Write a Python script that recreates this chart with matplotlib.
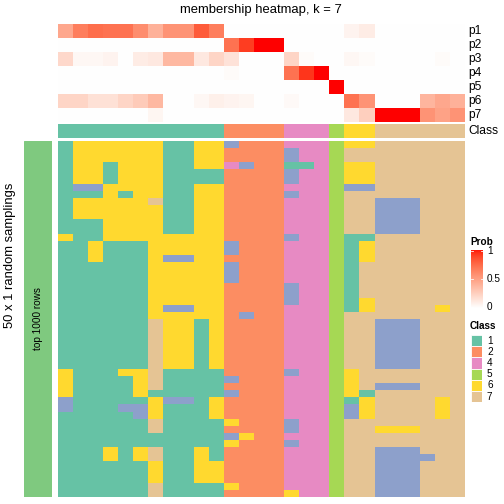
import numpy as np
import matplotlib
matplotlib.use("Agg")
import matplotlib.pyplot as plt
from matplotlib.colors import ListedColormap
from matplotlib.patches import Rectangle

plt.rcParams['font.family'] = ['Liberation Sans', 'DejaVu Sans']

W, H = 504, 504

# ---------------- data ----------------
prob_rows = ["p1", "p2", "p3", "p4", "p5", "p6", "p7"]
p1 = [0.45, 0.65, 0.72, 0.7, 0.7, 0.58, 0.4, 0.55, 0.55, 0.8, 0.65, 0, 0, 0, 0, 0, 0, 0, 0, 0.06, 0.1, 0, 0, 0, 0, 0, 0]
p2 = [0, 0, 0, 0, 0, 0, 0, 0, 0, 0, 0, 0.7, 0.9, 1.0, 1.0, 0, 0, 0, 0, 0, 0, 0, 0, 0, 0, 0, 0]
p3 = [0.2, 0.04, 0.04, 0.06, 0, 0.1, 0.12, 0.37, 0.37, 0.12, 0.22, 0.15, 0, 0, 0, 0.22, 0.02, 0, 0, 0.04, 0.02, 0, 0, 0, 0, 0.02, 0]
p4 = [0, 0, 0, 0, 0, 0, 0, 0, 0, 0, 0, 0.02, 0, 0, 0, 0.7, 0.92, 1.0, 0, 0, 0, 0, 0, 0, 0, 0, 0]
p5 = [0, 0, 0, 0, 0, 0, 0, 0, 0, 0, 0, 0, 0, 0, 0, 0, 0, 0, 1.0, 0, 0, 0, 0, 0, 0, 0, 0]
p6 = [0.22, 0.22, 0.16, 0.16, 0.22, 0.27, 0.37, 0, 0, 0.04, 0.08, 0.06, 0.05, 0, 0, 0.03, 0, 0, 0, 0.7, 0.55, 0, 0, 0, 0.38, 0.45, 0.4]
p7 = [0, 0, 0, 0, 0, 0, 0.05, 0, 0, 0, 0, 0, 0, 0, 0, 0, 0, 0, 0, 0.12, 0.25, 1.0, 1.0, 1.0, 0.55, 0.48, 0.55]

top_class = [1, 1, 1, 1, 1, 1, 1, 1, 1, 1, 1, 2, 2, 2, 2, 4, 4, 4, 5, 6, 6, 7, 7, 7, 7, 7, 7]

# class of each sample (column) in each of the 50 random samplings (rows), column by column
sampling_cols = [
    "1" * 13 + "6" + "1" * 18 + "6" * 4 + "33" + "1" * 12,
    "6" * 6 + "3" + "1" + "666" + "1" * 39,
    "6" * 6 + "3" + "1" + "666" + "111" + "666" + "1" * 33,
    "666" + "111" + "6" * 8 + "1" * 29 + "66" + "1" * 5,
    "6" * 7 + "1" + "6" * 6 + "1" * 18 + "6" + "1" * 4 + "3" + "1" * 12,
    "6" * 14 + "1" * 18 + "6" * 4 + "1" + "33" + "1" * 4 + "66" + "1" * 5,
    "6" * 8 + "7" + "6" * 16 + "7" * 10 + "1" + "666" + "77" + "11" + "77" + "666" + "77",
    "1" * 13 + "666" + "3" + "6" * 6 + "3" + "6" * 8 + "1" * 4 + "3" + "1" * 13,
    "1" * 13 + "666" + "3" + "6" * 6 + "3" + "6" * 8 + "1" * 4 + "3" + "1" * 13,
    "6" * 4 + "11" + "6" * 19 + "1" * 18 + "6" * 5 + "11",
    "6" * 4 + "11" + "6" * 26 + "1" * 4 + "666" + "1" * 6 + "666" + "11",
    "3" + "22" + "4" + "2" * 10 + "33" + "2" + "333" + "2" * 13 + "3" + "2" + "3" + "222" + "6" + "2" + "3" + "6" + "2" * 5 + "6" + "2",
    "222" + "3" + "2" * 20 + "3" + "2" * 16 + "6" + "2" * 8,
    "2" * 50,
    "2" * 50,
    "4" + "33" + "1" + "33" + "4" + "3" + "4" * 5 + "3" + "4" * 6 + "333" + "4" * 9 + "3" + "4" * 6 + "33" + "4" + "3" + "4" * 6 + "6",
    "444" + "1" + "4" * 46,
    "4" * 50,
    "5" * 50,
    "6" + "77" + "666" + "3" + "7" * 6 + "1" * 11 + "7" * 8 + "6" * 4 + "1" + "33" + "7" * 11,
    "6" + "77" + "666" + "3" + "7" * 6 + "1" + "666" + "7" * 5 + "66" + "7" * 11 + "1" + "666" + "7" * 11,
    "7" * 8 + "3" * 5 + "7" * 12 + "3" * 7 + "77" + "3" + "7" * 5 + "6" + "77" + "3" * 7,
    "7" * 8 + "3" * 5 + "7" * 12 + "3" * 7 + "77" + "3" + "7" * 5 + "6" + "77" + "3" * 7,
    "7" * 8 + "3" * 5 + "7" * 12 + "3" * 7 + "77" + "3" + "7" * 5 + "6" + "77" + "3" * 7,
    "7" * 44 + "3" + "7" * 5,
    "7" * 23 + "6" + "7" * 12 + "666" + "7" * 11,
    "7" * 50,
]

legend_classes = [1, 2, 4, 5, 6, 7]
class_colors = ["#66C2A5", "#FC8D62", "#8DA0CB", "#E78AC3", "#A6D854", "#FFD92F", "#E5C494"]

# ---------------- colormaps ----------------
def lab_to_rgb(L, a, b):
    fy = (L + 16) / 116.0
    fx = fy + a / 500.0
    fz = fy - b / 200.0
    def finv(t):
        return np.where(t ** 3 > 0.008856, t ** 3, (t - 16 / 116.0) / 7.787)
    X = 0.95047 * finv(fx)
    Y = 1.0 * finv(fy)
    Z = 1.08883 * finv(fz)
    r = 3.2406 * X - 1.5372 * Y - 0.4986 * Z
    g = -0.9689 * X + 1.8758 * Y + 0.0415 * Z
    bb = 0.0557 * X - 0.2040 * Y + 1.0570 * Z
    rgb = np.stack([r, g, bb], axis=-1)
    rgb = np.clip(rgb, 0, 1)
    rgb = np.where(rgb <= 0.0031308, 12.92 * rgb, 1.055 * rgb ** (1 / 2.4) - 0.055)
    return np.clip(rgb, 0, 1)

t = np.linspace(0, 1, 256)
Lw, aw, bw = 100.0, 0.0, 0.0
Lr, ar, br = 53.24, 80.09, 67.20
prob_cmap = ListedColormap(lab_to_rgb(Lw + (Lr - Lw) * t, aw + (ar - aw) * t, bw + (br - bw) * t))
class_cmap = ListedColormap(class_colors)

# ---------------- figure ----------------
fig = plt.figure(figsize=(7, 7), dpi=72)

def px_axes(x0, y0, x1, y1):
    ax = fig.add_axes([x0 / W, 1 - y1 / H, (x1 - x0) / W, (y1 - y0) / H])
    ax.set_axis_off()
    return ax

def ftext(x, y, s, **kw):
    fig.text(x / W, 1 - y / H, s, **kw)

HX0, HX1 = 58, 465

P = np.array([p1, p2, p3, p4, p5, p6, p7])
ax_top = px_axes(HX0, 24, HX1, 122)
ax_top.imshow(P, cmap=prob_cmap, vmin=0, vmax=1, aspect='auto', interpolation='nearest')

ax_cls = px_axes(HX0, 124, HX1, 138)
ax_cls.imshow(np.array(top_class)[None, :], cmap=class_cmap, vmin=0.5, vmax=7.5,
              aspect='auto', interpolation='nearest')

M = np.array([[int(ch) for ch in col] for col in sampling_cols]).T
ax_main = px_axes(HX0, 141, HX1, 497)
ax_main.imshow(M, cmap=class_cmap, vmin=0.5, vmax=7.5, aspect='auto', interpolation='nearest')

ax_left = px_axes(24, 141, 52, 497)
ax_left.add_patch(Rectangle((0, 0), 1, 1, color="#7FC97F", transform=ax_left.transAxes))
ftext(38, 319, "top 1000 rows", rotation=90, ha='center', va='center', fontsize=10)
ftext(10, 255, "50 x 1 random samplings", rotation=90, ha='center', va='center', fontsize=13)

ftext(261, 10, "membership heatmap, k = 7", ha='center', va='center', fontsize=13)

for i, name in enumerate(prob_rows):
    ftext(468, 24 + 14 * i + 7, name, ha='left', va='center', fontsize=12)
ftext(468, 131, "Class", ha='left', va='center', fontsize=12)

# legends
ftext(470, 242, "Prob", ha='left', va='center', fontsize=10, fontweight='bold')
ax_cb = px_axes(471, 250, 483, 308)
ax_cb.imshow(np.linspace(1, 0, 256)[:, None], cmap=prob_cmap, vmin=0, vmax=1,
             aspect='auto', interpolation='bilinear', extent=[0, 1, 0, 1])
for v in [0.02, 0.5, 0.98]:
    ax_cb.plot([0, 0.2], [v, v], color='white', lw=0.8)
    ax_cb.plot([0.8, 1], [v, v], color='white', lw=0.8)
ax_cb.set_xlim(0, 1)
ax_cb.set_ylim(0, 1)
for v, lab in [(1, "1"), (0.5, "0.5"), (0, "0")]:
    ftext(487, 308 - v * 56 - 1, lab, ha='left', va='center', fontsize=10)

ftext(470, 326, "Class", ha='left', va='center', fontsize=10, fontweight='bold')
for i, c in enumerate(legend_classes):
    y0 = 335 + 11.2 * i
    ax_b = px_axes(471, y0, 482, y0 + 11.2)
    ax_b.add_patch(Rectangle((0, 0), 1, 1, facecolor=class_colors[c - 1], edgecolor='white',
                             lw=0.8, transform=ax_b.transAxes))
    ftext(487, y0 + 5.6, str(c), ha='left', va='center', fontsize=10)

fig.savefig("out.png", dpi=72)
